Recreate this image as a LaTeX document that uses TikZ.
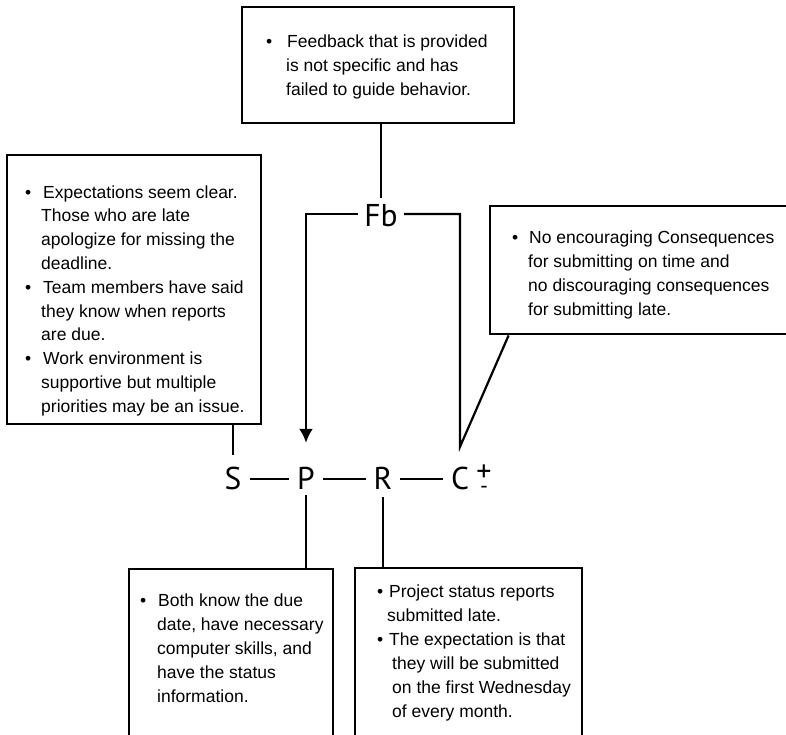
\documentclass[tikz,border=0pt]{standalone}
\usepackage{fontspec}
\setmainfont{Liberation Sans}
\newfontfamily\lettersf{PT Sans}
\usetikzlibrary{arrows.meta}

% bullet line: #1 = distance from bullet to text, #2 = text
\newcommand\bul[2]{\strut\makebox[#1][l]{•}#2}
% continuation line: #1 = indent, #2 = text
\newcommand\cont[2]{\strut\hspace*{#1}#2}

\tikzset{
  box/.style={draw, line width=2.8pt, inner sep=0pt},
  link/.style={line width=2.2pt},
  letter/.style={font=\lettersf\fontsize{31.5}{36}\selectfont, inner sep=0pt,
                 text height=20pt, text depth=0pt, minimum width=34pt, anchor=base},
  notes/.style={font=\fontsize{17.5}{24}\selectfont, align=left, inner sep=0pt, anchor=north west},
}

\begin{document}
\begin{tikzpicture}[x=1pt, y=-1pt]
\useasboundingbox (0,0) rectangle (786,734);
\clip (0,0) rectangle (786,734);
\fill[white] (0,0) rectangle (786,734);

% boxes
\node[box, minimum width=272pt, minimum height=116pt] (fbbox) at (378,65) {};
\node[box, minimum width=254pt, minimum height=269pt] (sbox) at (134,289.5) {};
\node[box, minimum width=310pt, minimum height=128pt] (cbox) at (645,270) {};
\node[box, minimum width=204pt, minimum height=191pt] (pbox) at (231,664.5) {};
\node[box, minimum width=227pt, minimum height=192pt] (rbox) at (468.5,664) {};

% box texts
\node[notes] (fbtext) at (266,30.2) {%
  \bul{21pt}{Feedback that is provided}\\
  \cont{20pt}{is not specific and has}\\
  \cont{20pt}{failed to guide behavior.}};

\node[notes, font=\fontsize{17.5}{23.8}\selectfont] (stext) at (25,181.3) {%
  \bul{18pt}{Expectations seem clear.}\\
  \cont{16pt}{Those who are late}\\
  \cont{16pt}{apologize for missing the}\\
  \cont{16pt}{deadline.}\\
  \bul{18pt}{Team members have said}\\
  \cont{16pt}{they know when reports}\\
  \cont{16pt}{are due.}\\
  \bul{18pt}{Work environment is}\\
  \cont{16pt}{supportive but multiple}\\
  \cont{16pt}{priorities may be an issue.}};

\node[notes] (ctext) at (512,226.2) {%
  \bul{17pt}{No encouraging Consequences}\\
  \cont{16pt}{for submitting on time and}\\
  \cont{16pt}{no discouraging consequences}\\
  \cont{16pt}{for submitting late.}};

\node[notes] (ptext) at (140,589.2) {%
  \bul{18pt}{Both know the due}\\
  \cont{17pt}{date, have necessary}\\
  \cont{17pt}{computer skills, and}\\
  \cont{17pt}{have the status}\\
  \cont{17pt}{information.}};

\node[notes] (rtext) at (377,580.2) {%
  \bul{12pt}{Project status reports}\\
  \cont{10pt}{submitted late.}\\
  \bul{12pt}{The expectation is that}\\
  \cont{15pt}{they will be submitted}\\
  \cont{15pt}{on the first Wednesday}\\
  \cont{15pt}{of every month.}};

% letters
\node[letter, text height=24pt, minimum width=46pt] (Fb) at (381,226) {Fb};
\node[letter] (S) at (233,489) {S};
\node[letter] (P) at (306,489) {P};
\node[letter] (R) at (383,489) {R};
\node[letter] (C) at (460,489) {C};
% plus over a shorter minus, set as one stack
\node[inner sep=0pt, anchor=base] (cpm) at (484,493)
  {\lettersf\shortstack{\fontsize{30}{30}\selectfont +\\[1.5pt]\fontsize{22}{22}\selectfont -}};

% connectors
\draw[link] (fbbox.south -| Fb) -- ([yshift=4pt]Fb.north);
\draw[link, -{Latex[length=14pt,width=14pt]}] (Fb.west) -| ([yshift=26pt]P.north);
\draw[link] (Fb.east) -| ([yshift=22pt]C.north) -- ([xshift=20pt]cbox.south west);
\draw[link] (S) -- (P);
\draw[link] (P) -- (R);
\draw[link] (R) -- (C);
\draw[link] ([yshift=14pt]S.north) -- (S |- sbox.south);
\draw[link] ([yshift=-6pt]P.south) -- (P |- pbox.north);
\draw[link] ([yshift=-8pt]R.south) -- (R |- rbox.north);
\end{tikzpicture}
\end{document}
